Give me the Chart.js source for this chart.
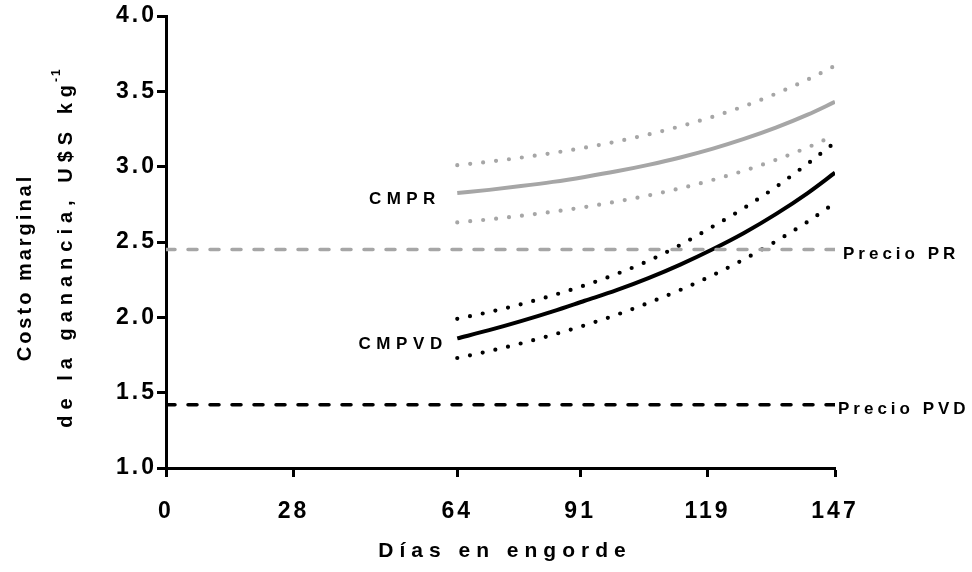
<!DOCTYPE html>
<html>
<head>
<meta charset="utf-8">
<script src="https://cdn.jsdelivr.net/npm/chart.js@4/dist/chart.umd.min.js"></script>
<style>
  html, body { margin: 0; padding: 0; background: #fff; }
  #wrap { width: 972px; height: 572px; }
</style>
</head>
<body>
<div id="wrap"><canvas id="c" width="972" height="572"></canvas></div>
<script>
// ---- data ----
const days = [64, 71, 78, 85, 92, 99, 106, 113, 120, 127, 134, 141, 147];
const cmprUpper = [3.01, 3.033, 3.06, 3.091, 3.126, 3.167, 3.214, 3.268, 3.33, 3.401, 3.484, 3.578, 3.67];
const cmpr = [2.825, 2.846, 2.871, 2.899, 2.932, 2.969, 3.012, 3.061, 3.118, 3.184, 3.259, 3.345, 3.43];
const cmprLower = [2.63, 2.65, 2.674, 2.701, 2.732, 2.768, 2.809, 2.856, 2.911, 2.973, 3.045, 3.128, 3.209];
const cmpvdUpper = [1.99, 2.035, 2.087, 2.146, 2.212, 2.288, 2.375, 2.48, 2.6, 2.725, 2.865, 3.02, 3.161];
const cmpvd = [1.86, 1.915, 1.975, 2.04, 2.11, 2.18, 2.26, 2.35, 2.45, 2.56, 2.685, 2.825, 2.96];
const cmpvdLower = [1.73, 1.776, 1.827, 1.884, 1.947, 2.017, 2.096, 2.182, 2.278, 2.385, 2.504, 2.635, 2.76];
const priceDays = [0, 147];
const precioPR = [2.45, 2.45];
const precioPVD = [1.42, 1.42];
const xTicks = [0, 28, 64, 91, 119, 147];
const yTicks = [1.0, 1.5, 2.0, 2.5, 3.0, 3.5, 4.0];
const xTitle = 'Días en engorde';
const yTitle1 = 'Costo marginal';
const yTitle2 = 'de la ganancia, U$S kg';
const yTitleSup = '-1';

const GRAY = '#a6a6a6';
const BLACK = '#000000';
const FONT = '"Liberation Sans", Arial, sans-serif';

function pts(xs, ys) { return xs.map((x, i) => ({ x: x, y: ys[i] })); }

function lineDs(label, xs, ys, color, kind) {
  const ds = {
    label: label,
    data: pts(xs, ys),
    borderColor: color,
    backgroundColor: color,
    pointRadius: 0,
    fill: false,
    cubicInterpolationMode: 'monotone',
    borderWidth: 4
  };
  if (kind === 'dot') {
    ds.borderDash = [0, 13];
    ds.borderCapStyle = 'round';
    ds.borderWidth = 4.2;
  } else if (kind === 'dash') {
    ds.borderDash = [9, 13];
    ds.borderCapStyle = 'round';
    ds.borderWidth = 3.5;
    ds.cubicInterpolationMode = 'default';
    ds.tension = 0;
  }
  return ds;
}

function spacedText(ctx, txt, x, y, align, sp) {
  ctx.letterSpacing = sp + 'px';
  const w = ctx.measureText(txt).width - sp;
  let sx = x;
  if (align === 'center') sx = x - w / 2;
  else if (align === 'right') sx = x - w;
  ctx.textAlign = 'left';
  ctx.fillText(txt, sx, y);
  return w;
}

const textPlugin = {
  id: 'texts',
  afterDraw(chart) {
    const ctx = chart.ctx;
    const xs = chart.scales.x, ys = chart.scales.y;
    ctx.save();
    ctx.fillStyle = BLACK;
    ctx.textBaseline = 'middle';

    // annotation labels
    ctx.font = 'bold 17px ' + FONT;
    spacedText(ctx, 'Precio PR', xs.getPixelForValue(147) + 8, ys.getPixelForValue(precioPR[1]) + 5, 'left', 4);
    spacedText(ctx, 'Precio PVD', xs.getPixelForValue(147) + 3, ys.getPixelForValue(precioPVD[1]) + 5, 'left', 4);
    spacedText(ctx, 'CMPR', xs.getPixelForValue(days[0]) - 22, ys.getPixelForValue(cmpr[0]) + 6, 'right', 5.4);
    spacedText(ctx, 'CMPVD', xs.getPixelForValue(days[0]) - 15, ys.getPixelForValue(cmpvd[0]) + 6, 'right', 5.6);

    // x axis title
    ctx.font = 'bold 21px ' + FONT;
    spacedText(ctx, xTitle, 502, 551, 'center', 6);

    // y axis title line 1
    ctx.save();
    ctx.translate(31, 269);
    ctx.rotate(-Math.PI / 2);
    ctx.textBaseline = 'alphabetic';
    ctx.font = 'bold 20px ' + FONT;
    spacedText(ctx, yTitle1, 0, 0, 'center', 3);
    ctx.restore();

    // y axis title line 2 with superscript
    ctx.save();
    ctx.translate(72, 246);
    ctx.rotate(-Math.PI / 2);
    ctx.textBaseline = 'alphabetic';
    ctx.font = 'bold 20px ' + FONT;
    ctx.letterSpacing = '6px';
    const w2 = ctx.measureText(yTitle2).width;
    ctx.font = 'bold 12px ' + FONT;
    ctx.letterSpacing = '2px';
    const ws = ctx.measureText(yTitleSup).width;
    const start = -(w2 + ws) / 2;
    ctx.font = 'bold 20px ' + FONT;
    spacedText(ctx, yTitle2, start, 0, 'left', 6);
    ctx.font = 'bold 12px ' + FONT;
    spacedText(ctx, yTitleSup, start + w2 - 3, -12, 'left', 2);
    ctx.restore();

    ctx.restore();
  }
};

const spacingPlugin = {
  id: 'spacing',
  beforeLayout(chart) { chart.ctx.letterSpacing = '3px'; },
  beforeDraw(chart) { chart.ctx.letterSpacing = '3px'; }
};

new Chart(document.getElementById('c'), {
  type: 'line',
  data: {
    datasets: [
      lineDs('Precio PVD', priceDays, precioPVD, BLACK, 'dash'),
      lineDs('Precio PR', priceDays, precioPR, GRAY, 'dash'),
      lineDs('CMPR sup', days, cmprUpper, GRAY, 'dot'),
      lineDs('CMPR', days, cmpr, GRAY, 'solid'),
      lineDs('CMPR inf', days, cmprLower, GRAY, 'dot'),
      lineDs('CMPVD sup', days, cmpvdUpper, BLACK, 'dot'),
      lineDs('CMPVD', days, cmpvd, BLACK, 'solid'),
      lineDs('CMPVD inf', days, cmpvdLower, BLACK, 'dot')
    ]
  },
  options: {
    responsive: false,
    animation: false,
    devicePixelRatio: 1,
    layout: { padding: { left: 0, right: 137, top: 16, bottom: 0 } },
    plugins: { legend: { display: false }, tooltip: { enabled: false } },
    scales: {
      x: {
        type: 'linear',
        min: 0, max: 147,
        afterBuildTicks: (s) => { s.ticks = xTicks.map(v => ({ value: v })); },
        afterFit: (s) => { s.height = 104; },
        grid: { display: true, drawOnChartArea: false, drawTicks: true, tickLength: 9, tickWidth: 3, tickColor: BLACK },
        border: { display: true, color: BLACK, width: 3 },
        ticks: {
          color: BLACK,
          font: { family: FONT, size: 23, weight: 'bold' },
          padding: 21,
          maxRotation: 0,
          autoSkip: false,
          callback: (v) => String(v)
        }
      },
      y: {
        type: 'linear',
        min: 1, max: 4,
        afterBuildTicks: (s) => { s.ticks = yTicks.map(v => ({ value: v })); },
        afterFit: (s) => { s.width = 166; },
        grid: { display: true, drawOnChartArea: false, drawTicks: true, tickLength: 9, tickWidth: 3, tickColor: BLACK },
        border: { display: true, color: BLACK, width: 3 },
        ticks: {
          color: BLACK,
          font: { family: FONT, size: 23, weight: 'bold' },
          padding: 0,
          autoSkip: false,
          callback: (v) => Number(v).toFixed(1)
        }
      }
    }
  },
  plugins: [spacingPlugin, textPlugin]
});
</script>
</body>
</html>
